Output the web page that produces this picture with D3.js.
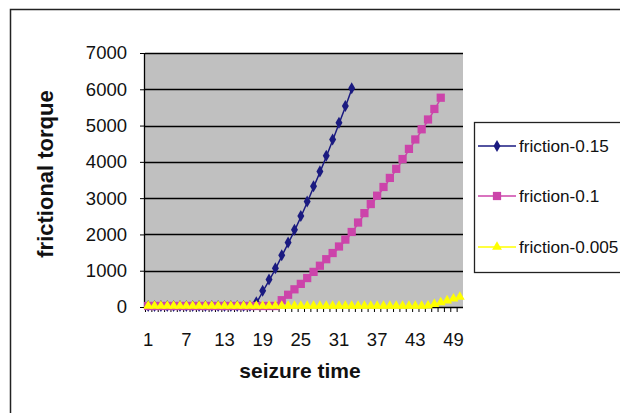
<!DOCTYPE html>
<html><head><meta charset="utf-8">
<script src="https://cdn.jsdelivr.net/npm/d3@7"></script>
<style>body{margin:0;background:#fff;}svg{display:block;font-family:"Liberation Sans",Arial,sans-serif;}</style>
</head><body><svg id="c" width="620" height="413"></svg>
<script>
const categories = d3.range(1, 51);
const tickLabels = [1, 7, 13, 19, 25, 31, 37, 43, 49];
const yTicks = [0, 1000, 2000, 3000, 4000, 5000, 6000, 7000];
const seriesNames = ["friction-0.15", "friction-0.1", "friction-0.005"];
const seriesColors = ["#1a1a80", "#cc44aa", "#ffff00"];
// friction-0.15 : categories 1..33
const friction015 = [0,0,0,0,0,0,0,0,0,0,0,0,0,0,0,0,0,100,420,730,1040,1400,1750,2100,2480,2880,3300,3710,4140,4590,5050,5510,6000];
// friction-0.1 : categories 1..47
const friction01 = [0,0,0,0,0,0,0,0,0,0,0,0,0,0,0,0,0,0,0,0,0,160,310,460,610,770,940,1110,1290,1460,1640,1830,2040,2300,2560,2810,3040,3280,3530,3780,4050,4330,4590,4870,5140,5430,5740];
// friction-0.005 : categories 1..50
const friction0005 = [0,0,0,0,0,0,0,0,0,0,0,0,0,0,0,0,0,0,0,0,0,0,0,0,0,0,0,0,0,0,0,0,0,0,0,0,0,0,0,0,0,0,0,0,10,50,100,150,200,250];

const svg = d3.select("#c");
const L = 145, R = 463, T = 53, B = 307;

// outer frame
svg.append("path").attr("d", `M10.5,413 V9.5 H620`).attr("fill","none").attr("stroke","#222").attr("stroke-width",1.5);

const x = d3.scaleBand().domain(categories).range([L, R]).padding(0);
const y = d3.scaleLinear().domain([0, 7000]).range([B, T]);

svg.append("rect").attr("x", L).attr("y", T).attr("width", R - L).attr("height", B - T).attr("fill", "#c0c0c0");

// gridlines
svg.append("g").selectAll("line").data(yTicks.filter(d => d > 0)).join("line")
  .attr("x1", L).attr("x2", R).attr("y1", d => Math.round(y(d)) + 0.5).attr("y2", d => Math.round(y(d)) + 0.5)
  .attr("stroke", "#000").attr("stroke-width", 1.3);

// y axis
const ya = svg.append("g").attr("transform", `translate(${L},0)`)
  .call(d3.axisLeft(y).tickValues(yTicks).tickSize(5).tickPadding(13).tickFormat(d3.format("d")));
ya.select(".domain").attr("d", `M-0.5,${T}V${B}`).attr("stroke","#000").attr("stroke-width",1.3);
ya.selectAll(".tick line").attr("stroke","#000");
ya.selectAll("text").attr("font-size", 18.5).attr("fill","#111").attr("font-family","'Liberation Sans',Arial,sans-serif");

// x axis
const xa = svg.append("g").attr("transform", `translate(0,${B})`)
  .call(d3.axisBottom(x).tickValues(tickLabels).tickSize(0).tickPadding(26));
xa.select(".domain").remove();
xa.selectAll("text").attr("font-size", 18.5).attr("fill","#111").attr("font-family","'Liberation Sans',Arial,sans-serif");
// category boundary tick marks
svg.append("g").selectAll("line").data(categories).join("line")
  .attr("x1", d => x(d) + 0.5).attr("x2", d => x(d) + 0.5).attr("y1", B).attr("y2", B + 5)
  .attr("stroke", "#000").attr("stroke-width", 1);
svg.append("line").attr("x1", L).attr("x2", R).attr("y1", B + 0.5).attr("y2", B + 0.5).attr("stroke", "#000").attr("stroke-width", 1.3);

// titles
svg.append("text").attr("x", 300).attr("y", 378).attr("text-anchor","middle").attr("font-size",21).attr("font-weight","bold").attr("fill","#111").text("seizure time");
svg.append("text").attr("transform","translate(53,174) rotate(-90)").attr("text-anchor","middle").attr("font-size",22).attr("font-weight","bold").attr("fill","#111").text("frictional torque");

const data = [friction015, friction01, friction0005];
const line = d3.line().x((d, i) => x(categories[i]) + x.bandwidth() / 2).y(d => y(d));
const symbols = [d3.symbolDiamond, d3.symbolSquare, d3.symbolTriangle];
const symSizes = [42, 68, 42];

[0, 1, 2].forEach(s => {
  const g = svg.append("g");
  g.append("path").datum(data[s]).attr("d", line).attr("fill", "none").attr("stroke", seriesColors[s]).attr("stroke-width", 1.5);
  g.selectAll("path.m").data(data[s]).join("path").attr("class","m")
    .attr("transform", (d, i) => `translate(${x(categories[i]) + x.bandwidth() / 2},${y(d) - 1})`)
    .attr("d", d3.symbol().type(symbols[s]).size(symSizes[s])).attr("fill", seriesColors[s]);
});

// legend
const lg = svg.append("g");
lg.append("rect").attr("x", 474.5).attr("y", 122.5).attr("width", 160).attr("height", 150).attr("fill","#fff").attr("stroke","#222").attr("stroke-width",1.3);
const ly = [146, 196, 247];
seriesNames.forEach((n, s) => {
  lg.append("line").attr("x1", 478).attr("x2", 516).attr("y1", ly[s]).attr("y2", ly[s]).attr("stroke", seriesColors[s]).attr("stroke-width", 1.5);
  lg.append("path").attr("transform", `translate(497,${ly[s]})`).attr("d", d3.symbol().type(symbols[s]).size(symSizes[s])).attr("fill", seriesColors[s]);
  lg.append("text").attr("x", 519).attr("y", ly[s] + 6).attr("font-size", 17.2).attr("fill","#111").text(n);
});
</script></body></html>
